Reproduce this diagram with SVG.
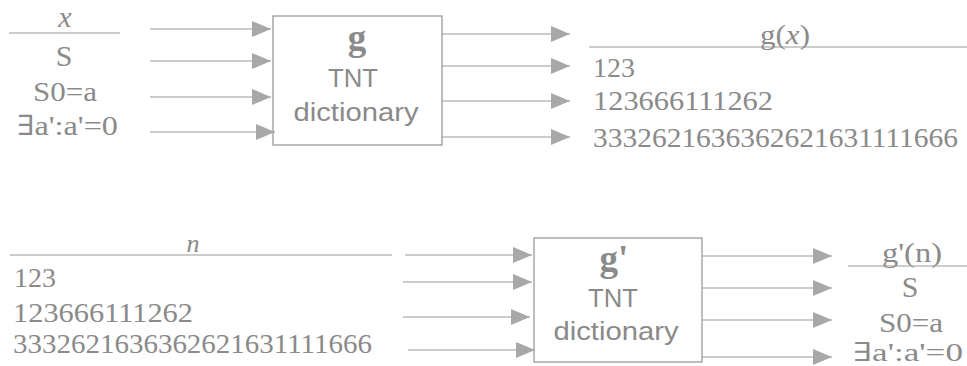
<svg xmlns="http://www.w3.org/2000/svg" width="967" height="366" viewBox="0 0 967 366">
<style>
.bg{fill:#fff}
.ln{stroke:#9a9a9a;stroke-width:1.2;fill:none}
.box{stroke:#9a9a9a;stroke-width:1.3;fill:#fff}
.t{font-family:"Liberation Serif","DejaVu Serif",serif;fill:#8a8a8a;font-size:28px}
.it{font-style:italic}
.g{font-family:"Liberation Serif","DejaVu Serif",serif;fill:#8a8a8a;font-size:37px;font-weight:bold}
.s{font-family:"Liberation Sans","DejaVu Sans",sans-serif;fill:#8a8a8a;font-size:26px}
.arr{stroke:#9a9a9a;stroke-width:1.2;fill:none;marker-end:url(#ah)}
</style>
<defs>
<marker id="ah" markerUnits="userSpaceOnUse" markerWidth="20" markerHeight="16" refX="19" refY="8" orient="auto">
<path d="M0,0 L19,8 L0,16 Z" fill="#a8a8a8"/>
</marker>
</defs>
<rect class="bg" x="0" y="0" width="967" height="366"/>

<g id="inputs-top">
<text class="t it" x="65" y="27" text-anchor="middle" style="font-size:30px">x</text>
<line class="ln" x1="9" y1="33" x2="120" y2="33"/>
<text class="t" x="64" y="66" text-anchor="middle" style="font-size:30px">S</text>
<text class="t" x="33" y="101" textLength="64" lengthAdjust="spacingAndGlyphs">S0=a</text>
<text class="t" x="17" y="135" textLength="101" lengthAdjust="spacingAndGlyphs">∃a':a'=0</text>
</g>

<g id="node-g">
<rect class="box" x="273" y="16" width="169" height="129"/>
<text class="g" x="357" y="50" text-anchor="middle">g</text>
<text class="s" x="353" y="87" text-anchor="middle" textLength="50" lengthAdjust="spacingAndGlyphs">TNT</text>
<text class="s" x="356" y="121" text-anchor="middle" textLength="125" lengthAdjust="spacingAndGlyphs">dictionary</text>
</g>

<g id="outputs-top">
<line class="ln" x1="589" y1="47" x2="967" y2="47"/>
<text class="t" x="785" y="44" text-anchor="middle" textLength="50" lengthAdjust="spacingAndGlyphs">g(<tspan class="it">x</tspan>)</text>
<text class="t" x="593" y="77" textLength="42" lengthAdjust="spacingAndGlyphs">123</text>
<text class="t" x="593" y="110" textLength="180" lengthAdjust="spacingAndGlyphs">123666111262</text>
<text class="t" x="593" y="147" textLength="365" lengthAdjust="spacingAndGlyphs">3332621636362621631111666</text>
</g>

<g id="inputs-bottom">
<text class="t it" x="193" y="252" text-anchor="middle" style="font-size:26px">n</text>
<line class="ln" x1="10" y1="255" x2="392" y2="255"/>
<text class="t" x="14" y="287" textLength="42" lengthAdjust="spacingAndGlyphs">123</text>
<text class="t" x="13" y="322" textLength="180" lengthAdjust="spacingAndGlyphs">123666111262</text>
<text class="t" x="13" y="353" textLength="359" lengthAdjust="spacingAndGlyphs">3332621636362621631111666</text>
</g>

<g id="node-gprime">
<rect class="box" x="534" y="238" width="168" height="124"/>
<text class="g" x="614" y="271" text-anchor="middle">g'</text>
<text class="s" x="613" y="307" text-anchor="middle" textLength="50" lengthAdjust="spacingAndGlyphs">TNT</text>
<text class="s" x="616" y="340" text-anchor="middle" textLength="125" lengthAdjust="spacingAndGlyphs">dictionary</text>
</g>

<g id="outputs-bottom">
<text class="t" x="912" y="262" text-anchor="middle" textLength="60" lengthAdjust="spacingAndGlyphs">g'(n)</text>
<line class="ln" x1="848" y1="266" x2="967" y2="266"/>
<text class="t" x="910" y="297" text-anchor="middle" style="font-size:30px">S</text>
<text class="t" x="879" y="332" textLength="64" lengthAdjust="spacingAndGlyphs">S0=a</text>
<text class="t" x="853" y="361" textLength="110" lengthAdjust="spacingAndGlyphs" style="font-size:26px">∃a':a'=0</text>
</g>

<g id="connectors">
<line class="arr" x1="150" y1="29" x2="271" y2="29"/>
<line class="arr" x1="150" y1="61" x2="271" y2="61"/>
<line class="arr" x1="150" y1="97" x2="271" y2="97"/>
<line class="arr" x1="150" y1="132" x2="275" y2="132"/>
<line class="arr" x1="442" y1="34" x2="570" y2="34"/>
<line class="arr" x1="442" y1="66" x2="570" y2="66"/>
<line class="arr" x1="442" y1="101" x2="570" y2="101"/>
<line class="arr" x1="442" y1="137" x2="570" y2="137"/>
<line class="arr" x1="405" y1="255" x2="532" y2="255"/>
<line class="arr" x1="403" y1="282" x2="532" y2="282"/>
<line class="arr" x1="403" y1="317" x2="530" y2="317"/>
<line class="arr" x1="408" y1="350" x2="535" y2="350"/>
<line class="arr" x1="702" y1="256" x2="832" y2="256"/>
<line class="arr" x1="702" y1="288" x2="832" y2="288"/>
<line class="arr" x1="702" y1="320" x2="832" y2="320"/>
<line class="arr" x1="702" y1="357" x2="832" y2="357"/>
</g>
</svg>
